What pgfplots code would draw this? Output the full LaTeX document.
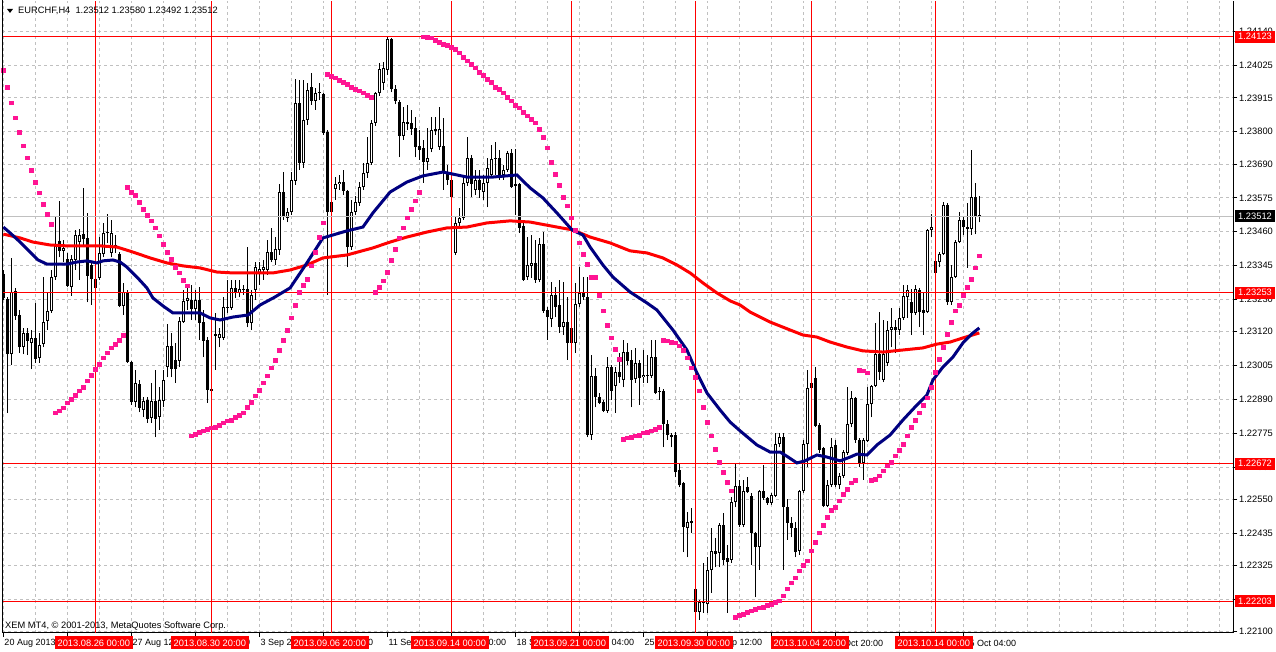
\documentclass[border=0pt]{standalone}
\usepackage{pgfplots}
\pgfplotsset{compat=1.18}
\usepackage{pgfplotstable}
\usepackage{fontspec}
\setmainfont{Liberation Sans}
\definecolor{mtgrid}{HTML}{C0C0C0}
\definecolor{maBlue}{HTML}{000080}
\definecolor{maRed}{HTML}{FF0000}
\definecolor{sar}{HTML}{FF1493}
\newcommand\mtf{\fontsize{9.3bp}{11bp}\selectfont}
\newcommand\mts{\fontsize{9bp}{11bp}\selectfont}

\pgfplotstableread{
i O H L C
0 1.23316 1.23330 1.23228 1.23235
1 1.23231 1.23238 1.22844 1.23044
2 1.23044 1.23371 1.23007 1.23255
3 1.23259 1.23269 1.23160 1.23174
4 1.23177 1.23194 1.23048 1.23068
5 1.23068 1.23133 1.23044 1.23116
6 1.23116 1.23133 1.23041 1.23089
7 1.23082 1.23126 1.22993 1.23099
8 1.23099 1.23218 1.23014 1.23027
9 1.23031 1.23116 1.23014 1.23075
10 1.23078 1.23306 1.23068 1.23153
11 1.23157 1.23255 1.23126 1.23191
12 1.23191 1.23330 1.23184 1.23306
13 1.23306 1.23510 1.23296 1.23418
14 1.23429 1.23565 1.23374 1.23395
15 1.23395 1.23432 1.23357 1.23405
16 1.23367 1.23388 1.23272 1.23276
17 1.23272 1.23381 1.23242 1.23367
18 1.23364 1.23466 1.23330 1.23449
19 1.23425 1.23469 1.23296 1.23449
20 1.23452 1.23609 1.23408 1.23435
21 1.23439 1.23524 1.23221 1.23310
22 1.23347 1.23361 1.23211 1.23299
23 1.23299 1.23330 1.23218 1.23269
24 1.23303 1.23442 1.23296 1.23388
25 1.23384 1.23490 1.23374 1.23456
26 1.23459 1.23520 1.23422 1.23456
27 1.23388 1.23500 1.23374 1.23456
28 1.23405 1.23449 1.23388 1.23415
29 1.23384 1.23391 1.23204 1.23208
30 1.23208 1.23286 1.23177 1.23255
31 1.23255 1.23262 1.23014 1.23017
32 1.23017 1.23021 1.22871 1.22881
33 1.22881 1.22990 1.22864 1.22946
34 1.22942 1.22956 1.22847 1.22861
35 1.22854 1.22898 1.22830 1.22885
36 1.22888 1.22898 1.22810 1.22823
37 1.22827 1.22946 1.22810 1.22885
38 1.22885 1.22990 1.22762 1.22823
39 1.22830 1.22932 1.22786 1.22888
40 1.22885 1.22990 1.22864 1.22956
41 1.23000 1.23146 1.22966 1.23072
42 1.23072 1.23116 1.22966 1.22993
43 1.23024 1.23082 1.22946 1.22993
44 1.23021 1.23170 1.23000 1.23157
45 1.23153 1.23262 1.23150 1.23225
46 1.23225 1.23272 1.23194 1.23235
47 1.23228 1.23279 1.23160 1.23197
48 1.23197 1.23262 1.23160 1.23228
49 1.23228 1.23272 1.23092 1.23150
50 1.23153 1.23194 1.23034 1.23089
51 1.23092 1.23102 1.22878 1.22922
52 1.22925 1.22929 1.22915 1.22919
53 1.23112 1.23184 1.22990 1.23106
54 1.23099 1.23133 1.23068 1.23112
55 1.23099 1.23238 1.23092 1.23204
56 1.23201 1.23296 1.23184 1.23204
57 1.23201 1.23296 1.23194 1.23269
58 1.23269 1.23296 1.23235 1.23255
59 1.23252 1.23296 1.23238 1.23265
60 1.23265 1.23279 1.23245 1.23262
61 1.23265 1.23408 1.23136 1.23150
62 1.23150 1.23262 1.23126 1.23245
63 1.23262 1.23357 1.23228 1.23340
64 1.23320 1.23357 1.23279 1.23333
65 1.23330 1.23364 1.23296 1.23340
66 1.23330 1.23432 1.23313 1.23391
67 1.23391 1.23473 1.23357 1.23364
68 1.23364 1.23442 1.23347 1.23401
69 1.23398 1.23622 1.23381 1.23595
70 1.23595 1.23663 1.23500 1.23514
71 1.23507 1.23541 1.23493 1.23527
72 1.23527 1.23663 1.23517 1.23636
73 1.23633 1.23979 1.23619 1.23898
74 1.23898 1.23976 1.23670 1.23694
75 1.23694 1.23976 1.23677 1.23840
76 1.23840 1.23966 1.23823 1.23942
77 1.23952 1.24000 1.23891 1.23905
78 1.23905 1.23949 1.23874 1.23932
79 1.23935 1.23966 1.23908 1.23932
80 1.23928 1.23932 1.23789 1.23796
81 1.23799 1.23806 1.23245 1.23527
82 1.23561 1.23585 1.23517 1.23527
83 1.23605 1.23646 1.23568 1.23622
84 1.23622 1.23653 1.23602 1.23629
85 1.23629 1.23670 1.23585 1.23599
86 1.23599 1.23602 1.23340 1.23408
87 1.23408 1.23568 1.23398 1.23527
88 1.23527 1.23582 1.23517 1.23561
89 1.23558 1.23629 1.23548 1.23612
90 1.23612 1.23694 1.23602 1.23660
91 1.23660 1.23782 1.23643 1.23694
92 1.23694 1.23840 1.23687 1.23830
93 1.23830 1.23935 1.23820 1.23932
94 1.23932 1.24034 1.23922 1.24013
95 1.23966 1.24037 1.23942 1.24017
96 1.24010 1.24123 1.23993 1.24115
97 1.24115 1.24120 1.23935 1.23945
98 1.23945 1.23959 1.23894 1.23905
99 1.23901 1.23908 1.23714 1.23786
100 1.23786 1.23884 1.23772 1.23833
101 1.23833 1.23891 1.23806 1.23826
102 1.23830 1.23874 1.23789 1.23809
103 1.23813 1.23850 1.23714 1.23748
104 1.23752 1.23806 1.23704 1.23738
105 1.23745 1.23772 1.23626 1.23697
106 1.23697 1.23813 1.23670 1.23711
107 1.23741 1.23850 1.23731 1.23806
108 1.23809 1.23850 1.23789 1.23803
109 1.23748 1.23884 1.23738 1.23809
110 1.23752 1.23847 1.23602 1.23660
111 1.23660 1.23687 1.23619 1.23636
112 1.23636 1.23653 1.23517 1.23578
113 1.23388 1.23510 1.23381 1.23490
114 1.23490 1.23541 1.23480 1.23507
115 1.23507 1.23646 1.23500 1.23626
116 1.23626 1.23782 1.23616 1.23711
117 1.23711 1.23721 1.23578 1.23622
118 1.23602 1.23670 1.23585 1.23636
119 1.23636 1.23670 1.23575 1.23602
120 1.23595 1.23653 1.23568 1.23626
121 1.23626 1.23711 1.23544 1.23677
122 1.23653 1.23755 1.23643 1.23707
123 1.23711 1.23765 1.23653 1.23707
124 1.23711 1.23738 1.23636 1.23653
125 1.23653 1.23687 1.23636 1.23670
126 1.23670 1.23735 1.23663 1.23728
127 1.23728 1.23741 1.23609 1.23612
128 1.23622 1.23741 1.23517 1.23616
129 1.23622 1.23626 1.23456 1.23473
130 1.23480 1.23493 1.23293 1.23296
131 1.23306 1.23442 1.23296 1.23347
132 1.23344 1.23449 1.23303 1.23354
133 1.23354 1.23432 1.23286 1.23296
134 1.23296 1.23439 1.23289 1.23418
135 1.23418 1.23459 1.23184 1.23191
136 1.23194 1.23204 1.23092 1.23170
137 1.23163 1.23289 1.23136 1.23245
138 1.23245 1.23272 1.23170 1.23204
139 1.23211 1.23296 1.23116 1.23136
140 1.23136 1.23289 1.23109 1.23153
141 1.23153 1.23238 1.23024 1.23082
142 1.23133 1.23184 1.23075 1.23082
143 1.23082 1.23286 1.23048 1.23214
144 1.23214 1.23340 1.23204 1.23252
145 1.23252 1.23306 1.23228 1.23238
146 1.23238 1.23306 1.22762 1.22769
147 1.22769 1.23041 1.22752 1.22970
148 1.22970 1.22997 1.22864 1.22898
149 1.22898 1.22912 1.22874 1.22878
150 1.22881 1.22888 1.22847 1.22851
151 1.22851 1.23034 1.22844 1.23000
152 1.23000 1.23007 1.22888 1.22919
153 1.22936 1.23000 1.22844 1.22983
154 1.22983 1.23048 1.22946 1.22966
155 1.22956 1.23092 1.22932 1.23051
156 1.23051 1.23082 1.23007 1.23021
157 1.23024 1.23058 1.22864 1.22956
158 1.22959 1.23065 1.22946 1.23014
159 1.23014 1.23024 1.22871 1.22963
160 1.22966 1.23058 1.22946 1.22973
161 1.22973 1.23041 1.22946 1.22970
162 1.22970 1.23092 1.22963 1.23034
163 1.23034 1.23092 1.22908 1.22912
164 1.22919 1.22932 1.22888 1.22915
165 1.22919 1.22925 1.22728 1.22806
166 1.22806 1.22820 1.22752 1.22769
167 1.22769 1.22776 1.22728 1.22762
168 1.22769 1.22779 1.22626 1.22643
169 1.22650 1.22674 1.22592 1.22599
170 1.22606 1.22609 1.22371 1.22456
171 1.22453 1.22507 1.22354 1.22473
172 1.22477 1.22521 1.22436 1.22470
173 1.22245 1.22252 1.22160 1.22167
174 1.22167 1.22208 1.22140 1.22201
175 1.22198 1.22334 1.22164 1.22201
176 1.22194 1.22354 1.22164 1.22310
177 1.22310 1.22453 1.22232 1.22375
178 1.22375 1.22419 1.22320 1.22364
179 1.22368 1.22470 1.22320 1.22463
180 1.22463 1.22504 1.22327 1.22344
181 1.22351 1.22395 1.22164 1.22337
182 1.22344 1.22558 1.22334 1.22541
183 1.22541 1.22674 1.22524 1.22596
184 1.22596 1.22616 1.22456 1.22463
185 1.22463 1.22616 1.22456 1.22579
186 1.22592 1.22626 1.22572 1.22575
187 1.22562 1.22572 1.22327 1.22436
188 1.22436 1.22439 1.22218 1.22388
189 1.22388 1.22582 1.22310 1.22579
190 1.22579 1.22667 1.22548 1.22555
191 1.22555 1.22558 1.22531 1.22538
192 1.22538 1.22572 1.22531 1.22565
193 1.22562 1.22776 1.22558 1.22738
194 1.22738 1.22776 1.22728 1.22762
195 1.22762 1.22776 1.22310 1.22524
196 1.22524 1.22551 1.22412 1.22470
197 1.22470 1.22490 1.22422 1.22453
198 1.22453 1.22473 1.22354 1.22371
199 1.22375 1.22582 1.22361 1.22579
200 1.22579 1.22752 1.22572 1.22738
201 1.22738 1.22990 1.22660 1.22929
202 1.22946 1.22980 1.22912 1.22929
203 1.22963 1.23000 1.22796 1.22800
204 1.22803 1.22810 1.22708 1.22718
205 1.22725 1.22728 1.22524 1.22528
206 1.22528 1.22616 1.22524 1.22599
207 1.22599 1.22759 1.22592 1.22728
208 1.22735 1.22752 1.22592 1.22599
209 1.22599 1.22640 1.22585 1.22630
210 1.22630 1.22718 1.22623 1.22711
211 1.22708 1.22932 1.22701 1.22806
212 1.22806 1.22919 1.22796 1.22895
213 1.22895 1.22898 1.22742 1.22752
214 1.22752 1.22759 1.22660 1.22674
215 1.22674 1.22759 1.22616 1.22752
216 1.22749 1.22932 1.22745 1.22874
217 1.22874 1.22939 1.22830 1.22936
218 1.22936 1.23150 1.22932 1.23044
219 1.23044 1.23187 1.22956 1.22983
220 1.22956 1.23160 1.22949 1.23044
221 1.23014 1.23157 1.23004 1.23126
222 1.23126 1.23201 1.23068 1.23136
223 1.23136 1.23160 1.23048 1.23126
224 1.23126 1.23201 1.23109 1.23167
225 1.23167 1.23279 1.23160 1.23242
226 1.23238 1.23279 1.23167 1.23262
227 1.23221 1.23265 1.23109 1.23184
228 1.23184 1.23279 1.23177 1.23265
229 1.23262 1.23269 1.23136 1.23187
230 1.23194 1.23252 1.23109 1.23184
231 1.23187 1.23469 1.23184 1.23466
232 1.23466 1.23520 1.23442 1.23476
233 1.23361 1.23371 1.23313 1.23320
234 1.23357 1.23391 1.23340 1.23384
235 1.23384 1.23561 1.23381 1.23551
236 1.23551 1.23558 1.23211 1.23221
237 1.23221 1.23347 1.23211 1.23306
238 1.23306 1.23432 1.23303 1.23425
239 1.23425 1.23527 1.23422 1.23500
240 1.23500 1.23510 1.23449 1.23476
241 1.23476 1.23558 1.23337 1.23469
242 1.23469 1.23738 1.23449 1.23578
243 1.23578 1.23626 1.23452 1.23510
244 1.23512 1.23580 1.23492 1.23512
}\candles

\pgfplotstableread{
i v
0 1.23476
1.7 1.23456
4.2 1.23425
6.7 1.23391
8.7 1.23364
10.9 1.23350
15.9 1.23350
18.4 1.23357
20.9 1.23361
23.4 1.23354
24.9 1.23361
27.4 1.23364
29.2 1.23357
30.9 1.23340
33.4 1.23306
35.9 1.23269
37.4 1.23235
39.9 1.23208
42.4 1.23184
45.9 1.23184
49.2 1.23184
51.7 1.23167
54.2 1.23160
57.4 1.23170
61.2 1.23177
64.2 1.23211
67.9 1.23238
71.7 1.23269
75.9 1.23354
79.9 1.23439
85.9 1.23463
89.9 1.23476
92.4 1.23524
96.7 1.23595
100.9 1.23629
104.9 1.23650
109.9 1.23663
112.4 1.23656
115.9 1.23646
122.4 1.23646
128.4 1.23653
131.7 1.23609
134.9 1.23575
138.4 1.23524
142.2 1.23466
144.9 1.23449
146.7 1.23408
149.9 1.23347
152.4 1.23306
156.7 1.23255
160.9 1.23218
163.4 1.23194
167.4 1.23126
170.9 1.23058
173.4 1.22980
175.9 1.22912
179.2 1.22854
181.7 1.22813
184.2 1.22783
188.4 1.22735
191.7 1.22711
194.2 1.22711
196.2 1.22694
198.4 1.22674
200.4 1.22681
203.4 1.22701
205.9 1.22694
209.2 1.22681
211.7 1.22694
213.4 1.22704
215.9 1.22701
218.4 1.22735
221.7 1.22769
224.9 1.22820
228.4 1.22871
230.9 1.22905
232.4 1.22956
234.9 1.23000
237.4 1.23034
239.9 1.23082
242.4 1.23116
244 1.23133
}\mablue

\pgfplotstableread{
i v
0 1.23452
4.2 1.23439
7.4 1.23425
11.7 1.23415
15.9 1.23412
24.2 1.23412
28.4 1.23408
32.4 1.23391
36.7 1.23371
40.9 1.23354
44.9 1.23344
49.2 1.23337
53.4 1.23323
57.4 1.23320
61.4 1.23320
67.4 1.23320
71.7 1.23330
75.9 1.23347
79.9 1.23371
85.9 1.23381
92.4 1.23405
96.7 1.23425
100.9 1.23442
105.9 1.23459
110.9 1.23473
115.9 1.23476
120.9 1.23490
126.7 1.23497
131.7 1.23493
138.4 1.23476
142.4 1.23466
146.7 1.23442
151.7 1.23422
156.7 1.23395
160.9 1.23388
164.9 1.23371
168.4 1.23347
171.7 1.23320
174.9 1.23286
178.4 1.23252
181.7 1.23225
184.2 1.23211
186.7 1.23187
191.7 1.23153
196.7 1.23126
199.9 1.23109
203.4 1.23102
206.7 1.23085
210.9 1.23068
214.9 1.23055
219.9 1.23051
224.9 1.23058
229.9 1.23065
233.4 1.23078
236.7 1.23085
239.9 1.23099
244 1.23116
}\mared

\pgfplotstableread{
i v
0 1.24010
1 1.23952
2 1.23898
3 1.23847
4 1.23799
5 1.23752
6 1.23711
7 1.23670
8 1.23629
9 1.23592
10 1.23554
11 1.23520
12 1.23486
13 1.22844
14 1.22851
15 1.22861
16 1.22878
17 1.22891
18 1.22905
19 1.22919
20 1.22932
21 1.22953
22 1.22973
23 1.22993
24 1.23010
25 1.23031
26 1.23048
27 1.23065
28 1.23078
29 1.23092
30 1.23109
31 1.23612
32 1.23595
33 1.23585
34 1.23561
35 1.23537
36 1.23517
37 1.23497
38 1.23473
39 1.23446
40 1.23418
41 1.23391
42 1.23367
43 1.23340
44 1.23320
45 1.23296
46 1.23276
47 1.22766
48 1.22772
49 1.22779
50 1.22783
51 1.22789
52 1.22793
53 1.22796
54 1.22803
55 1.22810
56 1.22817
57 1.22820
58 1.22830
59 1.22837
60 1.22844
61 1.22864
62 1.22881
63 1.22902
64 1.22922
65 1.22946
66 1.22970
67 1.22997
68 1.23024
69 1.23058
70 1.23092
71 1.23126
72 1.23167
73 1.23211
74 1.23255
75 1.23279
76 1.23299
77 1.23344
78 1.23391
79 1.23442
80 1.23490
81 1.23996
82 1.23989
83 1.23983
84 1.23976
85 1.23969
86 1.23962
87 1.23952
88 1.23945
89 1.23939
90 1.23932
91 1.23925
92 1.23918
93 1.23255
94 1.23272
95 1.23293
96 1.23323
97 1.23364
98 1.23401
99 1.23439
100 1.23473
101 1.23507
102 1.23537
103 1.23565
104 1.23595
105 1.24123
106 1.24122
107 1.24119
108 1.24112
109 1.24105
110 1.24098
111 1.24095
112 1.24088
113 1.24081
114 1.24068
115 1.24054
116 1.24041
117 1.24030
118 1.24017
119 1.24003
120 1.23993
121 1.23979
122 1.23969
123 1.23952
124 1.23945
125 1.23932
126 1.23918
127 1.23905
128 1.23891
129 1.23881
130 1.23867
131 1.23854
132 1.23843
133 1.23830
134 1.23809
135 1.23782
136 1.23745
137 1.23697
138 1.23656
139 1.23619
140 1.23578
141 1.23548
142 1.23507
143 1.23466
144 1.23422
145 1.23384
146 1.23350
147 1.23306
148 1.23306
149 1.23245
150 1.23191
151 1.23143
152 1.23099
153 1.23061
154 1.23027
155 1.22755
156 1.22759
157 1.22762
158 1.22766
159 1.22769
160 1.22776
161 1.22779
162 1.22783
163 1.22789
164 1.22796
165 1.23092
166 1.23089
167 1.23085
168 1.23082
169 1.23072
170 1.23058
171 1.23031
172 1.22997
173 1.22966
174 1.22919
175 1.22864
176 1.22813
177 1.22766
178 1.22721
179 1.22677
180 1.22643
181 1.22609
182 1.22579
183 1.22150
184 1.22157
185 1.22160
186 1.22167
187 1.22171
188 1.22177
189 1.22181
190 1.22184
191 1.22191
192 1.22194
193 1.22201
194 1.22205
195 1.22222
196 1.22246
197 1.22266
198 1.22283
199 1.22307
200 1.22327
201 1.22341
202 1.22375
203 1.22405
204 1.22436
205 1.22463
206 1.22490
207 1.22514
208 1.22524
209 1.22545
210 1.22568
211 1.22585
212 1.22606
213 1.22616
214 1.22990
215 1.22987
216 1.22980
217 1.22616
218 1.22619
219 1.22630
220 1.22647
221 1.22664
222 1.22677
223 1.22698
224 1.22718
225 1.22738
226 1.22766
227 1.22796
228 1.22820
229 1.22844
230 1.22871
231 1.22895
232 1.22932
233 1.22983
234 1.23027
235 1.23068
236 1.23112
237 1.23153
238 1.23191
239 1.23211
240 1.23245
241 1.23272
242 1.23299
243 1.23337
244 1.23378
}\sartab

\begin{document}
\begin{tikzpicture}[x=1bp,y=1bp]
\path[use as bounding box, fill=white] (0,0) rectangle (1276,652);
\begin{axis}[
  at={(2bp,19bp)}, anchor=south west,
  scale only axis, width=1231bp, height=632bp,
  xmin=-0.325, xmax=307.425,
  ymin=1.220958, ymax=1.242446,
  axis x line*=bottom, axis y line*=right,
  axis line style={black, line width=1bp},
  tick align=outside,
  major tick length=4bp, minor tick length=0pt,
  tick style={black, line width=1bp},
  xtick={0,16,...,240}, xticklabels={},
  xticklabel style={text opacity=0},
  minor xtick={0,8,...,304},
  xminorgrids=true, xmajorgrids=false, ymajorgrids=true,
  grid style={mtgrid, line width=1bp, dash pattern=on 3bp off 3bp},
  ytick={1.22100,1.22210,1.22325,1.22435,1.22550,1.22660,1.22775,1.22890,1.23005,1.23120,1.23230,1.23345,1.23460,1.23575,1.23690,1.23800,1.23915,1.24025,1.24140},
  yticklabels={1.22100,1.22210,1.22325,1.22435,1.22550,1.22660,1.22775,1.22890,1.23005,1.23120,1.23230,1.23345,1.23460,1.23575,1.23690,1.23800,1.23915,1.24025,1.24140},
  yticklabel style={font=\mtf, anchor=west, inner sep=0pt, xshift=2bp},
  scaled y ticks=false,
  clip=true,
  candle/.style={only marks, mark=*, mark size=0pt, mark options={draw=none, fill=none}, forget plot},
]
% candles: wicks
\addplot[candle,
  error bars/.cd, y dir=plus, y explicit, error mark=none,
  error bar style={draw=black, line width=1bp}]
  table[x=i, y=L, y error expr=\thisrow{H}-\thisrow{L}] {\candles};
% candle bodies
\addplot[candle,
  error bars/.cd, y dir=plus, y explicit, error mark=none,
  error bar style={draw=black, line width=3bp}]
  table[x=i, y expr={min(\thisrow{O},\thisrow{C})}, y error expr={max(abs(\thisrow{C}-\thisrow{O}),0.000034)}] {\candles};
% hollow interior of bullish bodies
\addplot[candle,
  error bars/.cd, y dir=plus, y explicit, error mark=none,
  error bar style={draw=white, line width=1bp}]
  table[x=i, y expr={\thisrow{O}+0.000034}, y error expr={max(\thisrow{C}-\thisrow{O}-0.000068,0)}] {\candles};
% objects
\pgfplotsinvokeforeach{23,52,82,112,142,173,202,233}{
  \draw[red, line width=1bp] (axis cs:#1,1.220958) -- (axis cs:#1,1.242446);
  \coordinate (V#1) at (axis cs:#1,1.220958);
}
\draw[mtgrid, line width=1bp] (axis cs:-0.325,1.23512) -- (axis cs:307.425,1.23512);
\pgfplotsinvokeforeach{1.24123,1.23253,1.22672,1.22203}{
  \draw[red, line width=1bp] (axis cs:-0.325,#1) -- (axis cs:307.425,#1);
}
\pgfplotsinvokeforeach{0,16,...,240}{
  \coordinate (T#1) at (axis cs:#1,1.220958);
}
\coordinate (RA) at (axis cs:307.425,1.24123);
\coordinate (RB) at (axis cs:307.425,1.23253);
\coordinate (RC) at (axis cs:307.425,1.22672);
\coordinate (RD) at (axis cs:307.425,1.22203);
\coordinate (RE) at (axis cs:307.425,1.23512);
% moving averages
\addplot[maRed, line width=3bp, mark=none] table[x=i, y=v] {\mared};
\addplot[maBlue, line width=3bp, mark=none] table[x=i, y=v] {\mablue};
% parabolic SAR
\addplot[only marks, mark=square*, mark size=1.75bp, sar, mark options={draw=none, fill=sar}] table[x=i, y=v] {\sartab};
\end{axis}
% left border
\draw[black, line width=1bp] (2.5,19) -- (2.5,652);
% header
\fill[black] (7,643) -- (13,643) -- (10,639) -- cycle;
\node[font=\mtf, anchor=west, inner sep=0pt] at (18,641.5) {EURCHF,H4\ \ 1.23512 1.23580 1.23492 1.23512};
\node[font=\mtf, anchor=west, inner sep=0pt] at (5,26) {XEM MT4, \textcopyright\ 2001-2013, MetaQuotes Software Corp.};
% time axis labels
\foreach \i/\t in {0/20 Aug 2013,16/22 Aug 20:00,32/27 Aug 12:00,48/30 Aug 04:00,64/3 Sep 20:00,80/6 Sep 12:00,96/11 Sep 04:00,112/13 Sep 20:00,128/18 Sep 12:00,144/23 Sep 04:00,160/25 Sep 20:00,176/30 Sep 12:00,192/3 Oct 04:00,208/7 Oct 20:00,224/10 Oct 12:00,240/15 Oct 04:00}{
  \node[font=\mts, anchor=west, inner sep=0pt] at ([xshift=1bp,yshift=-10bp]T\i) {\t};
}
% vertical line labels
\foreach \i/\t in {23/2013.08.26 00:00,52/2013.08.30 20:00,82/2013.09.06 20:00,112/2013.09.14 00:00,142/2013.09.21 00:00,173/2013.09.30 00:00,202/2013.10.04 20:00,233/2013.10.14 00:00}{
  \node[fill=red, text=white, font=\mtf, inner xsep=3bp, inner ysep=0pt, minimum height=13bp] at ([xshift=-1.5bp,yshift=-10bp]V\i) {\t};
}
% price labels
\foreach \c/\t in {RA/1.24123,RB/1.23253,RC/1.22672,RD/1.22203}{
  \node[fill=red, text=white, font=\mtf, anchor=west, inner xsep=3bp, inner ysep=0pt, minimum height=12bp] at ([xshift=2bp]\c) {\t};
}
\node[fill=black, text=white, font=\mtf, anchor=west, inner xsep=3bp, inner ysep=0pt, minimum height=12bp] at ([xshift=2bp]RE) {1.23512};
\end{tikzpicture}
\end{document}
